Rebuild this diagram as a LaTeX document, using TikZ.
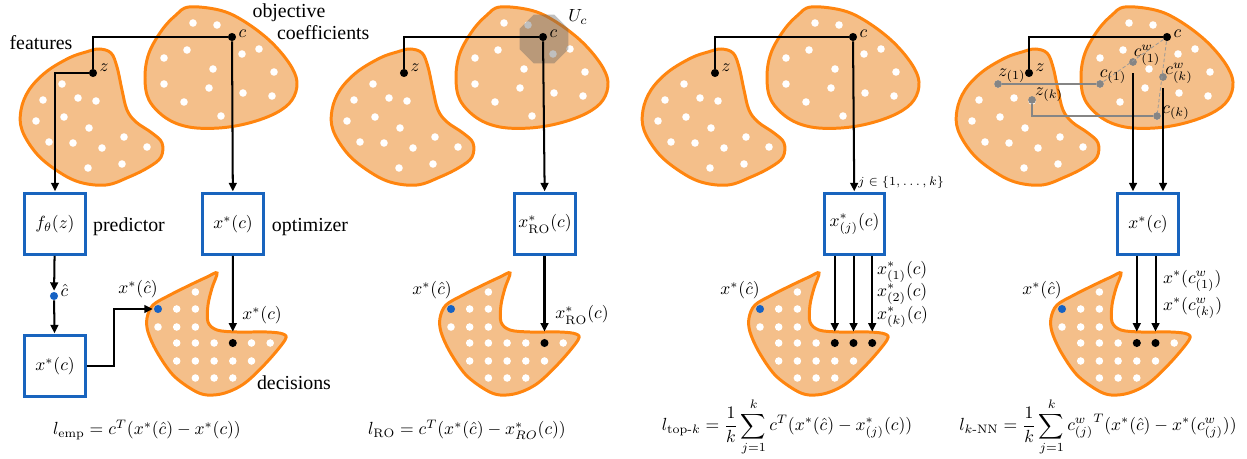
\documentclass[tikz,border=0pt]{standalone}
\usepackage{amsmath}
\usepackage{fontspec}
\newfontfamily\lblfont{Liberation Serif}
\usepackage{tikz}
\usetikzlibrary{arrows.meta,positioning,calc,shapes.geometric}

\definecolor{blobline}{RGB}{255,133,15}
\definecolor{blobfill}{RGB}{244,191,138}
\definecolor{boxblue}{RGB}{24,100,190}
\definecolor{dotblue}{RGB}{22,98,196}

% the two input sets (features, objective coefficients)
\newcommand{\inputsets}{%
  \draw[blob] plot[smooth cycle, tension=0.6] coordinates {
    (99,49) (111,53) (117,67) (122,90) (127,110) (136,122) (152,133)
    (162,143) (161,157) (149,167) (129,177) (106,185) (79,182) (56,170)
    (36,153) (22,130) (21,110) (29,90) (46,72) (69,58) (86,52)};
  \foreach \p in {(62,84),(43,100),(78,98),(96,101),(36,121),(64,117),(89,128),
                  (124,137),(49,142),(73,143),(102,148),(147,147),(88,168),(122,164)}
    {\fill[white] \p circle (2.15pt);}
  \draw[blob] plot[smooth cycle, tension=0.6] coordinates {
    (189,7) (219,10) (242,20) (269,40) (289,63) (297,82) (292,100) (276,113)
    (249,123) (219,128) (189,127) (166,118) (149,100) (145,77) (149,53)
    (162,30) (176,15)};
  \foreach \p in {(193,23),(217,25),(187,50),(242,54),(259,49),(164,58),(213,69),
                  (274,72),(164,84),(209,88),(243,93),(272,96),(184,102),(221,116)}
    {\fill[white] \p circle (2.15pt);}
}

% the decision set with its grid of feasible points
\newcommand{\decisionset}{%
  \draw[blob] plot[smooth cycle, tension=0.55] coordinates {
    (217,273) (207,277) (190,285) (170,295) (153,305) (147,318) (148,332)
    (157,352) (173,375) (193,390) (207,395) (225,393) (245,383) (267,362)
    (285,340) (283,334) (267,332) (237,332) (217,330) (208,322) (208,305)
    (212,288)};
  \foreach \y/\cols in {292/{2}, 309/{1,2}, 327/{0,1,2}, 343/{1,2,3,4,5,6},
                        361/{1,2,3,4,5}, 378/{2,3,4}}
    {\foreach \i in \cols {\fill[white] ({158+18.7*\i},\y) circle (2.15pt);}}
}

\begin{document}
\begin{tikzpicture}[
  x=0.02cm, y=-0.02cm,
  blob/.style={draw=blobline, line width=1.7pt, fill=blobfill},
  optbox/.style={draw=boxblue, line width=1.7pt, minimum size=34.5pt, inner sep=1pt},
  soliddot/.style={circle, fill=black, inner sep=0pt, minimum size=4.6pt},
  bluedot/.style={circle, fill=dotblue, inner sep=0pt, minimum size=4.6pt},
  graydot/.style={circle, fill=black!48, inner sep=0pt, minimum size=4.4pt},
  link/.style={line width=1.15pt},
  arr/.style={line width=1.15pt, -{Triangle[length=4.8pt,width=4.4pt]}, shorten >=0.5pt},
  nbr/.style={line width=0.8pt, black!48},
  mix/.style={line width=0.45pt, black!40, dash pattern=on 2pt off 1.3pt},
  lbl/.style={font=\lblfont\fontsize{11.3}{12.5}\selectfont},
  tag/.style={inner sep=1pt}]

\useasboundingbox (0,0) rectangle (1247,459);

% ================= empirical loss =========================================
\begin{scope}
  \inputsets
\end{scope}
\begin{scope}
  \decisionset
\end{scope}

\node[soliddot, label={[tag, yshift=2pt]right:$c$}] (c1) at (232,37) {};
\node[soliddot, label={[tag, yshift=3pt]right:$z$}] (z1) at (93,73) {};
\node[lbl] (feat) at (41,43) {features};
\node[lbl, align=left] (obj) at (311,22) {objective\\\hspace*{14pt}coefficients};

\node[optbox] (f1) at (55,224) {$f_\theta(z)$};
\node[optbox] (o1) at (233,224) {$x^*(c)$};
\node[optbox] (x1) at (55,366) {$x^*(c)$};
\node[lbl] (pred) at (129,227) {predictor};
\node[lbl] (optm) at (310,227) {optimizer};

\node[bluedot, label={[tag, yshift=3pt]right:$\hat c$}] (h1) at (54,296) {};
\node[bluedot] (b1) at (158,309) {};
\node[soliddot] (s1) at (232.8,343) {};

\draw[link] (c1) -| (z1);
\draw[arr] (z1.west) -| (f1);
\draw[arr] (c1) -- (o1);
\draw[arr] (f1) -- (h1);
\draw[arr] (h1) -- (x1);
\draw[arr] (x1.east) -- ++(27,0) |- (b1);
\draw[arr, shorten >=4pt] (o1) -- (s1);

\node (l1a) at (138,289) {$x^*(\hat c)$};
\node (l1b) at (262,315) {$x^*(c)$};
\node[lbl] (dec) at (294,383) {decisions};
\node (loss1) at (147,430) {$l_{\mathrm{emp}} = c^T(x^*(\hat c) - x^*(c))$};

% ================= robust optimisation ====================================
\begin{scope}[shift={(311,0)}]
  \inputsets
\end{scope}
\begin{scope}[shift={(293,0)}]
  \decisionset
\end{scope}

\node[regular polygon, regular polygon sides=8, minimum size=1.06cm, inner sep=0pt,
      fill=black!62, fill opacity=0.4] (U) at (544,39) {};
\node (Ulab) at (578,17) {$U_c$};
\node[soliddot, label={[tag, yshift=2pt]right:$c$}] (c2) at (543,37) {};
\node[soliddot, label={[tag, yshift=3pt]right:$z$}] (z2) at (404,73) {};

\node[optbox] (o2) at (545,224) {$x^*_{\mathrm{RO}}(c)$};
\node[bluedot] (b2) at (451,309) {};
\node[soliddot] (s2) at (544.5,343) {};

\draw[link] (c2) -| (z2);
\draw[arr] (c2) -- (o2);
\draw[arr, shorten >=4pt] (o2.south -| s2) -- (s2);

\node (l2a) at (432,290) {$x^*(\hat c)$};
\node (l2b) at (582,315) {$x^*_{\mathrm{RO}}(c)$};
\node (loss2) at (467,430) {$l_{\mathrm{RO}} = c^T(x^*(\hat c) - x^*_{RO}(c))$};

% ================= top-k ==================================================
\begin{scope}[shift={(622,0)}]
  \inputsets
\end{scope}
\begin{scope}[shift={(602,0)}]
  \decisionset
\end{scope}

\node[soliddot, label={[tag, yshift=2pt]right:$c$}] (c3) at (853,37) {};
\node[soliddot, label={[tag, yshift=3pt]right:$z$}] (z3) at (715,73) {};

\node[optbox] (o3) at (854.5,224) {$x^*_{(j)}(c)$};
\node[font=\scriptsize] (jset) at (901,182) {$j\in\{1,\dots,k\}$};
\node[bluedot] (b3) at (760,309) {};
\foreach \n/\x in {a/834.8, b/853.5, c/872.2}
  {\node[soliddot] (s3\n) at (\x,343) {};
   \draw[arr, shorten >=4pt] (o3.south -| s3\n) -- (s3\n);}

\draw[link] (c3) -| (z3);
\draw[arr] (c3) -- (o3);

\node[anchor=west, tag] (l3b) at (875,272) {$x^*_{(1)}(c)$};
\node[anchor=west, tag] (l3c) at (875,294) {$x^*_{(2)}(c)$};
\node[anchor=west, tag] (l3d) at (875,317) {$x^*_{(k)}(c)$};
\node (l3a) at (740,290) {$x^*(\hat c)$};
\node (loss3) at (787,427)
  {$\displaystyle l_{\text{top-}k} = \frac{1}{k}\sum_{j=1}^{k} c^T(x^*(\hat c) - x^*_{(j)}(c))$};

% ================= k nearest neighbours ===================================
\begin{scope}[shift={(936,0)}]
  \inputsets
\end{scope}
\begin{scope}[shift={(904,0)}]
  \decisionset
\end{scope}

\node[graydot] (zn1) at (998,84) {};
\node[graydot] (znk) at (1032,100) {};
\node[graydot] (cn1) at (1100,84) {};
\node[graydot] (cnk) at (1157,116) {};
\node[graydot] (cw1) at (1133,62) {};
\node[graydot] (cwk) at (1163,77) {};
\node[soliddot, label={[tag, yshift=2pt]right:$c$}] (c4) at (1167,37) {};
\node[soliddot, label={[tag, yshift=3pt]right:$z$}] (z4) at (1029,73) {};

\draw[nbr] (zn1) -- (cn1);
\draw[nbr] (znk) |- (cnk);
\draw[mix] (c4) -- (cn1);
\draw[mix] (c4) -- (cnk);
\draw[link] (c4) -| (z4);

\node (tz1) at (1012,76) {$z_{(1)}$};
\node (tzk) at (1049,95) {$z_{(k)}$};
\node (tc1) at (1113,77) {$c_{(1)}$};
\node (tck) at (1176,113) {$c_{(k)}$};
\node (tw1) at (1147,55) {$c^w_{(1)}$};
\node (twk) at (1179,73) {$c^w_{(k)}$};

\node[optbox] (o4) at (1148,224) {$x^*(c)$};
\node[bluedot] (b4) at (1062,309) {};
\node[soliddot] (s4a) at (1136.8,343) {};
\node[soliddot] (s4b) at (1155.5,343) {};

\draw[arr, shorten <=4pt] (cw1) -- (cw1 |- o4.north);
\draw[arr, shorten <=4pt] (cwk) -- (cwk |- o4.north);
\draw[arr, shorten >=4pt] (o4.south -| s4a) -- (s4a);
\draw[arr, shorten >=4pt] (o4.south -| s4b) -- (s4b);

\node[anchor=west, tag] (l4b) at (1161,281) {$x^*(c^w_{(1)})$};
\node[anchor=west, tag] (l4c) at (1161,308) {$x^*(c^w_{(k)})$};
\node (l4a) at (1042,290) {$x^*(\hat c)$};
\node (loss4) at (1098,427)
  {$\displaystyle l_{k\text{-NN}} = \frac{1}{k}\sum_{j=1}^{k} {c^w_{(j)}}^T(x^*(\hat c) - x^*(c^w_{(j)}))$};

\end{tikzpicture}
\end{document}
